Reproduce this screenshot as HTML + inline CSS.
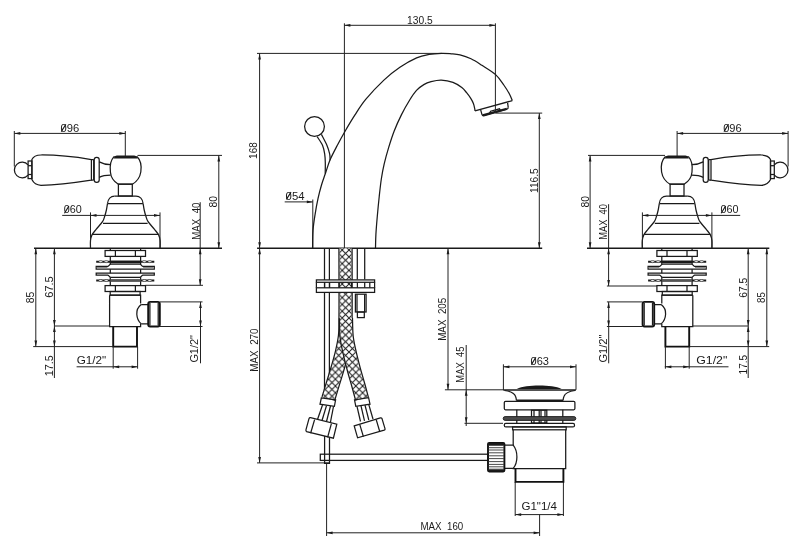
<!DOCTYPE html>
<html><head><meta charset="utf-8"><style>
html,body{margin:0;padding:0;background:#fff;}
svg{display:block;}
text{font-family:"Liberation Sans",sans-serif;fill:#1a1a1a;}
.d{stroke:#222;stroke-width:1.0;fill:none;}
.o{stroke:#1a1a1a;stroke-width:1.25;fill:none;}
.ow{stroke:#1a1a1a;stroke-width:1.25;fill:#fff;}
.b{stroke:#1a1a1a;stroke-width:1.5;fill:none;}
.k{stroke:#111;stroke-width:1.9;fill:none;}
.k2{stroke:#333;stroke-width:0.9;fill:none;}
.g{stroke:#1a1a1a;stroke-width:1.1;fill:#888;}
.w{stroke:#1a1a1a;stroke-width:1.2;fill:none;}
.f{fill:#1a1a1a;stroke:none;}
.a{fill:#1a1a1a;stroke:none;}
</style></head><body>
<svg style="will-change:transform" width="800" height="548" viewBox="0 0 800 548">
<defs>
<pattern id="braid" patternUnits="userSpaceOnUse" width="6.8" height="6.8" patternTransform="translate(342.2,250)">
<path d="M0,0 L6.8,6.8 M6.8,0 L0,6.8" stroke="#181818" stroke-width="1.0" fill="none"/>
</pattern>
</defs>
<rect width="800" height="548" fill="#fff"/>
<g transform="translate(802.4,0) scale(-1,1)"><g><path class="o" d="M28.1,164.9 A7.8,7.8 0 1 0 28.1,175.1"/><rect class="o" x="28.1" y="161" width="3.8" height="17.6"/><line class="o" x1="28.1" y1="165.7" x2="31.9" y2="165.7"/><line class="o" x1="28.1" y1="174.5" x2="31.9" y2="174.5"/><path class="o" d="M31.9,159.5 C33.5,156.2 36.5,155.1 41,155 C60,154.9 76,157 91.4,159.6 L91.4,180.1 C76,182.5 60,185 41,185.3 C36.5,185.2 33.5,183 31.9,179.6 Z"/><line class="o" x1="93.7" y1="159.6" x2="93.7" y2="180.1"/><line class="o" x1="91.4" y1="159.6" x2="93.7" y2="159.6"/><line class="o" x1="91.4" y1="180.1" x2="93.7" y2="180.1"/><rect class="o" x="94.2" y="157.3" width="5" height="25.1" rx="2.4"/><path class="o" d="M99.2,161.9 C103,164 106,164.6 110.6,164.6 M99.2,177.4 C103,175.3 106,175.1 110.6,175.1"/><path class="o" d="M113.8,156.8 L137.2,156.8 C140.8,160.5 141.6,167 140.8,172 C140,177 137,181.5 132.4,184.2 L118.3,184.2 C113.8,181.5 110.8,177 110.4,172 C109.8,167 110.4,160.5 113.8,156.8 Z"/><path class="f" d="M113.6,158.6 C114.5,156.4 115.5,155.6 117,155.5 L134,155.5 C135.8,155.6 136.8,156.4 137.6,158.6 Z"/><rect class="o" x="118.4" y="184.2" width="13.9" height="11.8"/><path class="o" d="M114.6,196 L136,196 C139.9,196 142.7,199.2 143.1,203.6"/><path class="o" d="M114.6,196 C110.7,196 107.9,199.2 107.5,203.6"/><path class="o" d="M107.5,203.6 C107.32,204.67 106.87,207.88 106.4,210 C105.93,212.12 105.35,214.35 104.7,216.3 C104.05,218.25 103.93,219.52 102.5,221.7 C101.07,223.88 97.85,227.2 96.1,229.4 C94.35,231.6 92.93,233.05 92,234.9 C91.07,236.75 90.75,238.27 90.5,240.5 C90.25,242.73 90.5,247 90.5,248.3"/><path class="o" d="M143.1,203.6 C143.28,204.67 143.73,207.88 144.2,210 C144.67,212.12 145.25,214.35 145.9,216.3 C146.55,218.25 146.67,219.52 148.1,221.7 C149.53,223.88 152.75,227.2 154.5,229.4 C156.25,231.6 157.67,233.05 158.6,234.9 C159.53,236.75 159.85,238.27 160.1,240.5 C160.35,242.73 160.1,247 160.1,248.3"/><line class="o" x1="107.7" y1="203.7" x2="142.9" y2="203.7"/><line class="o" x1="103" y1="223.4" x2="147.6" y2="223.4"/><line class="o" x1="92.2" y1="234.3" x2="158.4" y2="234.3"/><rect class="o" x="105.1" y="250.5" width="40.4" height="5.9"/><line class="o" x1="115.4" y1="250.5" x2="115.4" y2="256.4"/><line class="o" x1="135.4" y1="250.5" x2="135.4" y2="256.4"/><line class="o" x1="110.3" y1="248.3" x2="110.3" y2="250.5"/><line class="o" x1="140.6" y1="248.3" x2="140.6" y2="250.5"/><line class="o" x1="110.3" y1="256.4" x2="110.3" y2="285.6"/><line class="o" x1="140.6" y1="256.4" x2="140.6" y2="285.6"/><line x1="96.2" y1="261.7" x2="154.3" y2="261.7" stroke="#1a1a1a" stroke-width="2.1"/><ellipse cx="100.7" cy="261.7" rx="2.0" ry="0.95" fill="#fff" stroke="#1a1a1a" stroke-width="0.6"/><ellipse cx="106.2" cy="261.7" rx="2.0" ry="0.95" fill="#fff" stroke="#1a1a1a" stroke-width="0.6"/><ellipse cx="144.3" cy="261.7" rx="2.0" ry="0.95" fill="#fff" stroke="#1a1a1a" stroke-width="0.6"/><ellipse cx="149.8" cy="261.7" rx="2.0" ry="0.95" fill="#fff" stroke="#1a1a1a" stroke-width="0.6"/><rect class="f" x="110.3" y="260.7" width="30.3" height="2.5"/><path class="ow" d="M96.2,266.4 L107.8,266.4 C108.6,266.4 109.4,264.1 111,264.1 L139.6,264.1 C141.2,264.1 142,266.4 142.8,266.4 L154.3,266.4 L154.3,269.2 L96.2,269.2 Z"/><rect x="96.8" y="267" width="10.6" height="1.6" fill="#8a8a8a"/><rect x="143.1" y="267" width="10.6" height="1.6" fill="#8a8a8a"/><path class="ow" d="M96.2,273.2 L154.3,273.2 L154.3,275.1 L142.8,275.1 C142,275.1 141.2,277.4 139.6,277.4 L111,277.4 C109.4,277.4 108.6,275.1 107.8,275.1 L96.2,275.1 Z"/><line x1="96.2" y1="280.5" x2="154.3" y2="280.5" stroke="#1a1a1a" stroke-width="2.1"/><ellipse cx="100.7" cy="280.5" rx="2.0" ry="0.95" fill="#fff" stroke="#1a1a1a" stroke-width="0.6"/><ellipse cx="106.2" cy="280.5" rx="2.0" ry="0.95" fill="#fff" stroke="#1a1a1a" stroke-width="0.6"/><ellipse cx="144.3" cy="280.5" rx="2.0" ry="0.95" fill="#fff" stroke="#1a1a1a" stroke-width="0.6"/><ellipse cx="149.8" cy="280.5" rx="2.0" ry="0.95" fill="#fff" stroke="#1a1a1a" stroke-width="0.6"/><rect x="110.3" y="279.3" width="30.3" height="2.4" fill="#555"/><rect class="o" x="105.1" y="285.6" width="40.4" height="5.9"/><line class="o" x1="115.4" y1="285.6" x2="115.4" y2="291.5"/><line class="o" x1="135.4" y1="285.6" x2="135.4" y2="291.5"/><rect class="o" x="110.2" y="291.5" width="29.9" height="3.7"/><path class="o" d="M109.6,295.2 L109.6,326.5 L140.6,326.5 L140.6,323.8 M109.6,295.2 L140.6,295.2 L140.6,303.5"/><path class="o" d="M141.2,304.6 C137.5,307.5 136.6,311 136.8,314.2 C137,318 138.5,321.5 141.2,323.8"/><path class="o" d="M141.2,304.6 L148.2,304.6 M141.2,323.8 L148.2,323.8"/><rect class="k" x="148.2" y="301.9" width="11.6" height="24.6" rx="2"/><line class="o" x1="149.9" y1="303" x2="149.9" y2="325.5"/><line class="o" x1="158.2" y1="303" x2="158.2" y2="325.5"/><path class="k" d="M113.2,326.5 L113.2,346.6 L137,346.6 L137,326.5"/></g></g><g><path class="o" d="M28.1,164.9 A7.8,7.8 0 1 0 28.1,175.1"/><rect class="o" x="28.1" y="161" width="3.8" height="17.6"/><line class="o" x1="28.1" y1="165.7" x2="31.9" y2="165.7"/><line class="o" x1="28.1" y1="174.5" x2="31.9" y2="174.5"/><path class="o" d="M31.9,159.5 C33.5,156.2 36.5,155.1 41,155 C60,154.9 76,157 91.4,159.6 L91.4,180.1 C76,182.5 60,185 41,185.3 C36.5,185.2 33.5,183 31.9,179.6 Z"/><line class="o" x1="93.7" y1="159.6" x2="93.7" y2="180.1"/><line class="o" x1="91.4" y1="159.6" x2="93.7" y2="159.6"/><line class="o" x1="91.4" y1="180.1" x2="93.7" y2="180.1"/><rect class="o" x="94.2" y="157.3" width="5" height="25.1" rx="2.4"/><path class="o" d="M99.2,161.9 C103,164 106,164.6 110.6,164.6 M99.2,177.4 C103,175.3 106,175.1 110.6,175.1"/><path class="o" d="M113.8,156.8 L137.2,156.8 C140.8,160.5 141.6,167 140.8,172 C140,177 137,181.5 132.4,184.2 L118.3,184.2 C113.8,181.5 110.8,177 110.4,172 C109.8,167 110.4,160.5 113.8,156.8 Z"/><path class="f" d="M113.6,158.6 C114.5,156.4 115.5,155.6 117,155.5 L134,155.5 C135.8,155.6 136.8,156.4 137.6,158.6 Z"/><rect class="o" x="118.4" y="184.2" width="13.9" height="11.8"/><path class="o" d="M114.6,196 L136,196 C139.9,196 142.7,199.2 143.1,203.6"/><path class="o" d="M114.6,196 C110.7,196 107.9,199.2 107.5,203.6"/><path class="o" d="M107.5,203.6 C107.32,204.67 106.87,207.88 106.4,210 C105.93,212.12 105.35,214.35 104.7,216.3 C104.05,218.25 103.93,219.52 102.5,221.7 C101.07,223.88 97.85,227.2 96.1,229.4 C94.35,231.6 92.93,233.05 92,234.9 C91.07,236.75 90.75,238.27 90.5,240.5 C90.25,242.73 90.5,247 90.5,248.3"/><path class="o" d="M143.1,203.6 C143.28,204.67 143.73,207.88 144.2,210 C144.67,212.12 145.25,214.35 145.9,216.3 C146.55,218.25 146.67,219.52 148.1,221.7 C149.53,223.88 152.75,227.2 154.5,229.4 C156.25,231.6 157.67,233.05 158.6,234.9 C159.53,236.75 159.85,238.27 160.1,240.5 C160.35,242.73 160.1,247 160.1,248.3"/><line class="o" x1="107.7" y1="203.7" x2="142.9" y2="203.7"/><line class="o" x1="103" y1="223.4" x2="147.6" y2="223.4"/><line class="o" x1="92.2" y1="234.3" x2="158.4" y2="234.3"/><rect class="o" x="105.1" y="250.5" width="40.4" height="5.9"/><line class="o" x1="115.4" y1="250.5" x2="115.4" y2="256.4"/><line class="o" x1="135.4" y1="250.5" x2="135.4" y2="256.4"/><line class="o" x1="110.3" y1="248.3" x2="110.3" y2="250.5"/><line class="o" x1="140.6" y1="248.3" x2="140.6" y2="250.5"/><line class="o" x1="110.3" y1="256.4" x2="110.3" y2="285.6"/><line class="o" x1="140.6" y1="256.4" x2="140.6" y2="285.6"/><line x1="96.2" y1="261.7" x2="154.3" y2="261.7" stroke="#1a1a1a" stroke-width="2.1"/><ellipse cx="100.7" cy="261.7" rx="2.0" ry="0.95" fill="#fff" stroke="#1a1a1a" stroke-width="0.6"/><ellipse cx="106.2" cy="261.7" rx="2.0" ry="0.95" fill="#fff" stroke="#1a1a1a" stroke-width="0.6"/><ellipse cx="144.3" cy="261.7" rx="2.0" ry="0.95" fill="#fff" stroke="#1a1a1a" stroke-width="0.6"/><ellipse cx="149.8" cy="261.7" rx="2.0" ry="0.95" fill="#fff" stroke="#1a1a1a" stroke-width="0.6"/><rect class="f" x="110.3" y="260.7" width="30.3" height="2.5"/><path class="ow" d="M96.2,266.4 L107.8,266.4 C108.6,266.4 109.4,264.1 111,264.1 L139.6,264.1 C141.2,264.1 142,266.4 142.8,266.4 L154.3,266.4 L154.3,269.2 L96.2,269.2 Z"/><rect x="96.8" y="267" width="10.6" height="1.6" fill="#8a8a8a"/><rect x="143.1" y="267" width="10.6" height="1.6" fill="#8a8a8a"/><path class="ow" d="M96.2,273.2 L154.3,273.2 L154.3,275.1 L142.8,275.1 C142,275.1 141.2,277.4 139.6,277.4 L111,277.4 C109.4,277.4 108.6,275.1 107.8,275.1 L96.2,275.1 Z"/><line x1="96.2" y1="280.5" x2="154.3" y2="280.5" stroke="#1a1a1a" stroke-width="2.1"/><ellipse cx="100.7" cy="280.5" rx="2.0" ry="0.95" fill="#fff" stroke="#1a1a1a" stroke-width="0.6"/><ellipse cx="106.2" cy="280.5" rx="2.0" ry="0.95" fill="#fff" stroke="#1a1a1a" stroke-width="0.6"/><ellipse cx="144.3" cy="280.5" rx="2.0" ry="0.95" fill="#fff" stroke="#1a1a1a" stroke-width="0.6"/><ellipse cx="149.8" cy="280.5" rx="2.0" ry="0.95" fill="#fff" stroke="#1a1a1a" stroke-width="0.6"/><rect x="110.3" y="279.3" width="30.3" height="2.4" fill="#555"/><rect class="o" x="105.1" y="285.6" width="40.4" height="5.9"/><line class="o" x1="115.4" y1="285.6" x2="115.4" y2="291.5"/><line class="o" x1="135.4" y1="285.6" x2="135.4" y2="291.5"/><rect class="o" x="110.2" y="291.5" width="29.9" height="3.7"/><path class="o" d="M109.6,295.2 L109.6,326.5 L140.6,326.5 L140.6,323.8 M109.6,295.2 L140.6,295.2 L140.6,303.5"/><path class="o" d="M141.2,304.6 C137.5,307.5 136.6,311 136.8,314.2 C137,318 138.5,321.5 141.2,323.8"/><path class="o" d="M141.2,304.6 L148.2,304.6 M141.2,323.8 L148.2,323.8"/><rect class="k" x="148.2" y="301.9" width="11.6" height="24.6" rx="2"/><line class="o" x1="149.9" y1="303" x2="149.9" y2="325.5"/><line class="o" x1="158.2" y1="303" x2="158.2" y2="325.5"/><path class="k" d="M113.2,326.5 L113.2,346.6 L137,346.6 L137,326.5"/></g><line class="d" x1="14.3" y1="131" x2="14.3" y2="166.5"/><line class="d" x1="125.3" y1="131" x2="125.3" y2="156"/><line class="d" x1="14.3" y1="133.4" x2="125.3" y2="133.4"/><path class="a" d="M14.3,133.4L20.3,132.05L20.3,134.75Z"/><path class="a" d="M125.3,133.4L119.3,132.05L119.3,134.75Z"/><text x="60.5" y="131.8" font-size="10" textLength="18.7" lengthAdjust="spacingAndGlyphs">096</text><line x1="61.27" y1="131.6" x2="65.89" y2="124.3" stroke="#111" stroke-width="1.05"/><line class="d" x1="137.5" y1="155.4" x2="222" y2="155.4"/><line class="d" x1="218.8" y1="155.4" x2="218.8" y2="248.3"/><path class="a" d="M218.8,155.4L217.45,161.4L220.15,161.4Z"/><path class="a" d="M218.8,248.3L217.45,242.3L220.15,242.3Z"/><text transform="translate(216.7,207.6) rotate(-90)" font-size="10" textLength="11.5" lengthAdjust="spacingAndGlyphs">80</text><line class="d" x1="200.2" y1="202.2" x2="200.2" y2="285.3"/><path class="a" d="M200.2,248.3L198.85,254.3L201.55,254.3Z"/><path class="a" d="M200.2,285.3L198.85,279.3L201.55,279.3Z"/><text transform="translate(199.5,239.8) rotate(-90)" font-size="10" textLength="37.3" lengthAdjust="spacingAndGlyphs">MAX&#160;&#160;40</text><line class="d" x1="145.5" y1="285.3" x2="203" y2="285.3"/><line class="b" x1="34" y1="248.3" x2="222" y2="248.3"/><line class="d" x1="62.2" y1="215.4" x2="160" y2="215.4"/><line class="d" x1="90.5" y1="212.4" x2="90.5" y2="248.3"/><line class="d" x1="160" y1="212.4" x2="160" y2="248.3"/><path class="a" d="M90.5,215.4L96.5,214.05L96.5,216.75Z"/><path class="a" d="M160,215.4L154,214.05L154,216.75Z"/><text x="63.7" y="213.4" font-size="10" textLength="18" lengthAdjust="spacingAndGlyphs">060</text><line x1="64.46" y1="213.2" x2="68.9" y2="205.9" stroke="#111" stroke-width="1.05"/><line class="d" x1="35.8" y1="248.3" x2="35.8" y2="346.6"/><path class="a" d="M35.8,248.3L34.45,254.3L37.15,254.3Z"/><path class="a" d="M35.8,346.6L34.45,340.6L37.15,340.6Z"/><text transform="translate(34.3,303.2) rotate(-90)" font-size="10" textLength="11.5" lengthAdjust="spacingAndGlyphs">85</text><line class="d" x1="54.4" y1="248.3" x2="54.4" y2="378"/><path class="a" d="M54.4,248.3L53.05,254.3L55.75,254.3Z"/><path class="a" d="M54.4,326L53.05,320L55.75,320Z"/><path class="a" d="M54.4,326L53.05,332L55.75,332Z"/><path class="a" d="M54.4,346.6L53.05,340.6L55.75,340.6Z"/><text transform="translate(53.3,297.7) rotate(-90)" font-size="10" textLength="21.4" lengthAdjust="spacingAndGlyphs">67.5</text><text transform="translate(53.3,376.2) rotate(-90)" font-size="10" textLength="20.9" lengthAdjust="spacingAndGlyphs">17.5</text><line class="d" x1="54.4" y1="326" x2="109.6" y2="326"/><line class="d" x1="33.2" y1="346.6" x2="113.2" y2="346.6"/><line class="d" x1="76.6" y1="366.8" x2="137.6" y2="366.8"/><line class="d" x1="113.2" y1="346.6" x2="113.2" y2="368.7"/><line class="d" x1="137.6" y1="346.6" x2="137.6" y2="368.7"/><path class="a" d="M113.2,366.8L119.2,365.45L119.2,368.15Z"/><path class="a" d="M137.6,366.8L131.6,365.45L131.6,368.15Z"/><text x="76.7" y="363.8" font-size="10" textLength="29.5" lengthAdjust="spacingAndGlyphs">G1/2&quot;</text><line class="d" x1="159.8" y1="301.9" x2="202.5" y2="301.9"/><line class="d" x1="159.8" y1="326.5" x2="202.5" y2="326.5"/><line class="d" x1="200.5" y1="301.9" x2="200.5" y2="363.3"/><path class="a" d="M200.5,301.9L199.15,307.9L201.85,307.9Z"/><path class="a" d="M200.5,326.5L199.15,320.5L201.85,320.5Z"/><text transform="translate(198.1,362.6) rotate(-90)" font-size="10" textLength="27.4" lengthAdjust="spacingAndGlyphs">G1/2&quot;</text><line class="d" x1="788.1" y1="131" x2="788.1" y2="166.5"/><line class="d" x1="677.1" y1="131" x2="677.1" y2="156"/><line class="d" x1="677.1" y1="133.4" x2="788.1" y2="133.4"/><path class="a" d="M677.1,133.4L683.1,132.05L683.1,134.75Z"/><path class="a" d="M788.1,133.4L782.1,132.05L782.1,134.75Z"/><text x="723.2" y="131.8" font-size="10" textLength="18.5" lengthAdjust="spacingAndGlyphs">096</text><line x1="723.97" y1="131.6" x2="728.53" y2="124.3" stroke="#111" stroke-width="1.05"/><line class="d" x1="588" y1="155.4" x2="665" y2="155.4"/><line class="d" x1="590.1" y1="155.4" x2="590.1" y2="248.3"/><path class="a" d="M590.1,155.4L588.75,161.4L591.45,161.4Z"/><path class="a" d="M590.1,248.3L588.75,242.3L591.45,242.3Z"/><text transform="translate(588.6,207.6) rotate(-90)" font-size="10" textLength="11.5" lengthAdjust="spacingAndGlyphs">80</text><line class="d" x1="608.6" y1="204.2" x2="608.6" y2="286"/><path class="a" d="M608.6,248.3L607.25,254.3L609.95,254.3Z"/><path class="a" d="M608.6,286L607.25,280L609.95,280Z"/><text transform="translate(607.1,239.8) rotate(-90)" font-size="10" textLength="35.7" lengthAdjust="spacingAndGlyphs">MAX&#160;&#160;40</text><line class="d" x1="606.9" y1="286" x2="656.9" y2="286"/><line class="b" x1="587" y1="248.3" x2="769.3" y2="248.3"/><line class="d" x1="642.4" y1="215.4" x2="740.2" y2="215.4"/><line class="d" x1="642.4" y1="212.4" x2="642.4" y2="248.3"/><line class="d" x1="711.9" y1="212.4" x2="711.9" y2="248.3"/><path class="a" d="M642.4,215.4L648.4,214.05L648.4,216.75Z"/><path class="a" d="M711.9,215.4L705.9,214.05L705.9,216.75Z"/><text x="720.4" y="213.4" font-size="10" textLength="18" lengthAdjust="spacingAndGlyphs">060</text><line x1="721.16" y1="213.2" x2="725.6" y2="205.9" stroke="#111" stroke-width="1.05"/><line class="d" x1="766.8" y1="248.3" x2="766.8" y2="346.6"/><path class="a" d="M766.8,248.3L765.45,254.3L768.15,254.3Z"/><path class="a" d="M766.8,346.6L765.45,340.6L768.15,340.6Z"/><text transform="translate(764.7,302.9) rotate(-90)" font-size="10" textLength="10.7" lengthAdjust="spacingAndGlyphs">85</text><line class="d" x1="748.2" y1="248.3" x2="748.2" y2="378"/><path class="a" d="M748.2,248.3L746.85,254.3L749.55,254.3Z"/><path class="a" d="M748.2,326L746.85,320L749.55,320Z"/><path class="a" d="M748.2,326L746.85,332L749.55,332Z"/><path class="a" d="M748.2,346.6L746.85,340.6L749.55,340.6Z"/><text transform="translate(746.9,297.8) rotate(-90)" font-size="10" textLength="20.1" lengthAdjust="spacingAndGlyphs">67.5</text><text transform="translate(746.9,374.4) rotate(-90)" font-size="10" textLength="19.6" lengthAdjust="spacingAndGlyphs">17.5</text><line class="d" x1="692.8" y1="326" x2="748.2" y2="326"/><line class="d" x1="689.2" y1="346.6" x2="769.2" y2="346.6"/><line class="d" x1="664.8" y1="366.8" x2="728.5" y2="366.8"/><line class="d" x1="665.4" y1="346.6" x2="665.4" y2="368.7"/><line class="d" x1="689.2" y1="346.6" x2="689.2" y2="368.7"/><path class="a" d="M665.4,366.8L671.4,365.45L671.4,368.15Z"/><path class="a" d="M689.2,366.8L683.2,365.45L683.2,368.15Z"/><text x="696.2" y="363.5" font-size="10" textLength="31.1" lengthAdjust="spacingAndGlyphs">G1/2&quot;</text><line class="d" x1="606.9" y1="301.9" x2="642.6" y2="301.9"/><line class="d" x1="606.9" y1="326.5" x2="642.6" y2="326.5"/><line class="d" x1="608.7" y1="301.9" x2="608.7" y2="363.3"/><path class="a" d="M608.6,301.9L607.25,307.9L609.95,307.9Z"/><path class="a" d="M608.6,326.5L607.25,320.5L609.95,320.5Z"/><text transform="translate(606.5,362.6) rotate(-90)" font-size="10" textLength="28.1" lengthAdjust="spacingAndGlyphs">G1/2&quot;</text><line class="d" x1="344.4" y1="23.3" x2="344.4" y2="248.3"/><line class="d" x1="344.4" y1="25.3" x2="495.4" y2="25.3"/><path class="a" d="M344.4,25.3L350.4,23.95L350.4,26.65Z"/><path class="a" d="M495.4,25.3L489.4,23.95L489.4,26.65Z"/><line class="d" x1="495.4" y1="23.3" x2="495.4" y2="107"/><text x="407.1" y="23.7" font-size="10" textLength="25.6" lengthAdjust="spacingAndGlyphs">130.5</text><line class="d" x1="257" y1="53.4" x2="442" y2="53.4"/><line class="d" x1="259.6" y1="53.4" x2="259.6" y2="248.3"/><path class="a" d="M259.6,53.4L258.25,59.4L260.95,59.4Z"/><path class="a" d="M259.6,248.3L258.25,242.3L260.95,242.3Z"/><text transform="translate(257.3,158.9) rotate(-90)" font-size="10" textLength="16.6" lengthAdjust="spacingAndGlyphs">168</text><line class="d" x1="259.6" y1="248.3" x2="259.6" y2="462.9"/><path class="a" d="M259.6,248.3L258.25,254.3L260.95,254.3Z"/><path class="a" d="M259.6,462.9L258.25,456.9L260.95,456.9Z"/><text transform="translate(257.6,371.7) rotate(-90)" font-size="10" textLength="43.3" lengthAdjust="spacingAndGlyphs">MAX&#160;&#160;270</text><line class="d" x1="257" y1="462.9" x2="329.4" y2="462.9"/><line class="b" x1="257.1" y1="248.3" x2="542.2" y2="248.3"/><line class="d" x1="284.7" y1="201.9" x2="312.8" y2="201.9"/><path class="a" d="M312.8,201.9L306.8,200.55L306.8,203.25Z"/><line class="d" x1="312.8" y1="199.5" x2="312.8" y2="248.3"/><text x="285.6" y="199.6" font-size="10" textLength="18.9" lengthAdjust="spacingAndGlyphs">054</text><line x1="286.38" y1="199.4" x2="291.04" y2="192.1" stroke="#111" stroke-width="1.05"/><line class="d" x1="495.4" y1="113.1" x2="542.2" y2="113.1"/><line class="d" x1="539.3" y1="113.1" x2="539.3" y2="248.3"/><path class="a" d="M539.3,113.1L537.95,119.1L540.65,119.1Z"/><path class="a" d="M539.3,248.3L537.95,242.3L540.65,242.3Z"/><text transform="translate(537.9,193) rotate(-90)" font-size="10" textLength="24.6" lengthAdjust="spacingAndGlyphs">116.5</text><line class="d" x1="448" y1="248.3" x2="448" y2="389.8"/><path class="a" d="M448,248.3L446.65,254.3L449.35,254.3Z"/><path class="a" d="M448,389.8L446.65,383.8L449.35,383.8Z"/><text transform="translate(446.4,340.8) rotate(-90)" font-size="10" textLength="43.1" lengthAdjust="spacingAndGlyphs">MAX&#160;&#160;205</text><line class="d" x1="444.9" y1="389.8" x2="504" y2="389.8"/><line class="d" x1="466.2" y1="345" x2="466.2" y2="426"/><path class="a" d="M466.2,389.8L464.85,395.8L467.55,395.8Z"/><path class="a" d="M466.2,423.3L464.85,417.3L467.55,417.3Z"/><text transform="translate(464.1,382.7) rotate(-90)" font-size="10" textLength="36.2" lengthAdjust="spacingAndGlyphs">MAX&#160;&#160;45</text><line class="d" x1="464.5" y1="423.3" x2="503" y2="423.3"/><line class="d" x1="503.4" y1="366.8" x2="576" y2="366.8"/><path class="a" d="M503.4,366.8L509.4,365.45L509.4,368.15Z"/><path class="a" d="M576,366.8L570,365.45L570,368.15Z"/><line class="d" x1="503.4" y1="364.3" x2="503.4" y2="389.8"/><line class="d" x1="576" y1="364.3" x2="576" y2="389.8"/><text x="530.6" y="364.8" font-size="10" textLength="18.4" lengthAdjust="spacingAndGlyphs">063</text><line x1="531.37" y1="364.6" x2="535.91" y2="357.3" stroke="#111" stroke-width="1.05"/><line class="d" x1="515.2" y1="482" x2="515.2" y2="516"/><line class="d" x1="563.4" y1="482" x2="563.4" y2="516"/><line class="d" x1="515.2" y1="514.6" x2="563.4" y2="514.6"/><path class="a" d="M515.2,514.6L521.2,513.25L521.2,515.95Z"/><path class="a" d="M563.4,514.6L557.4,513.25L557.4,515.95Z"/><text x="521.4" y="509.9" font-size="10" textLength="35.6" lengthAdjust="spacingAndGlyphs">G1&quot;1/4</text><line class="d" x1="326.6" y1="462.9" x2="326.6" y2="536"/><line class="d" x1="539.6" y1="514.6" x2="539.6" y2="536"/><line class="d" x1="326.6" y1="532.8" x2="539.6" y2="532.8"/><path class="a" d="M326.6,532.8L332.6,531.45L332.6,534.15Z"/><path class="a" d="M539.6,532.8L533.6,531.45L533.6,534.15Z"/><text x="420.5" y="530" font-size="10" textLength="42.7" lengthAdjust="spacingAndGlyphs">MAX&#160;&#160;160</text><path class="o" d="M312.6,248.3 C312.67,245.32 312.58,236.07 313,230.4 C313.42,224.73 314.25,219.67 315.1,214.3 C315.95,208.93 317.03,203.08 318.1,198.2 C319.17,193.32 320.3,189.07 321.5,185 C322.7,180.93 323.85,178.03 325.3,173.8 C326.75,169.57 328.1,164.53 330.2,159.6 C332.3,154.67 335.52,148.77 337.9,144.2 C340.28,139.63 341.68,137.03 344.5,132.2 C347.32,127.37 351.27,120.67 354.8,115.2 C358.33,109.73 360.85,105.25 365.7,99.4 C370.55,93.55 378.2,85.45 383.9,80.1 C389.6,74.75 394.45,71 399.9,67.3 C405.35,63.6 411.75,60.03 416.6,57.9 C421.45,55.77 424.85,55.25 429,54.5 C433.15,53.75 437.83,53.52 441.5,53.4 C445.17,53.28 447.92,53.55 451,53.8 C454.08,54.05 456.67,54.07 460,54.9 C463.33,55.73 467.35,57.07 471,58.8 C474.65,60.53 477.8,62.67 481.9,65.3 C486,67.93 491.95,71.32 495.6,74.6 C499.25,77.88 501.52,81.8 503.8,85 C506.08,88.2 507.88,91.2 509.3,93.8 C510.72,96.4 511.8,99.47 512.3,100.6"/><path class="o" d="M375.5,248.3 C375.57,245.98 375.6,239.73 375.9,234.4 C376.2,229.07 376.75,222.58 377.3,216.3 C377.85,210.02 378.52,203 379.2,196.7 C379.88,190.4 380.57,183.97 381.4,178.5 C382.23,173.03 382.98,169.08 384.2,163.9 C385.42,158.72 387.03,152.88 388.7,147.4 C390.37,141.92 392.07,136.47 394.2,131 C396.33,125.53 398.92,119.77 401.5,114.6 C404.08,109.43 407.2,104.03 409.7,100 C412.2,95.97 414.15,92.97 416.5,90.4 C418.85,87.83 421.37,86.05 423.8,84.6 C426.23,83.15 428.18,82.43 431.1,81.7 C434.02,80.97 437.65,80.08 441.3,80.2 C444.95,80.32 449.58,81.18 453,82.4 C456.42,83.62 459.53,85.78 461.8,87.5 C464.07,89.22 465.13,90.92 466.6,92.7 C468.07,94.48 469.47,96.4 470.6,98.2 C471.73,100 472.7,101.68 473.4,103.5 C474.1,105.32 474.53,107.87 474.8,109.1 C475.07,110.33 474.97,110.6 475,110.9"/><path class="o" d="M475.0,110.9 L512.3,100.6"/><path class="o" d="M480.6,109.6 L482,114.6 C482.4,115.8 483.4,116 484.6,115.7 L506.6,109.4 C507.8,109 508.4,108.3 508.2,107.2 L507.6,102.8"/><path d="M482.6,115.2 L506.8,108.7" stroke="#1a1a1a" stroke-width="2.0" fill="none"/><path class="o" d="M489.5,113.3 L490.6,111.2 L499.5,108.8 L500.5,110.6"/><line class="d" x1="495.4" y1="107" x2="495.4" y2="113.1"/><circle class="o" cx="314.5" cy="126.5" r="9.9"/><path class="o" d="M321.4,134.4 C322.32,136.22 325.52,142.02 326.9,145.3 C328.28,148.58 329.17,151.6 329.7,154.1 C330.23,156.6 330.03,159.27 330.1,160.3"/><path class="o" d="M317.1,136.6 C318,138.05 321.23,142.38 322.5,145.3 C323.77,148.22 324.23,151.17 324.7,154.1 C325.17,157.03 325.22,159.65 325.3,162.9 C325.38,166.15 325.22,171.82 325.2,173.6"/><line class="o" x1="324.5" y1="248.3" x2="324.5" y2="390"/><line class="o" x1="329.4" y1="248.3" x2="329.4" y2="386"/><line class="o" x1="357.3" y1="248.3" x2="357.3" y2="279.4"/><line class="o" x1="364.7" y1="248.3" x2="364.7" y2="279.4"/><path d="M345.5,248.3 C345.52,256.92 345.6,288.05 345.6,300 C345.6,311.95 345.6,314 345.5,320 C345.4,326 345.58,330.67 345,336 C344.42,341.33 343.28,346.45 342,352 C340.72,357.55 338.83,363.97 337.3,369.3 C335.77,374.63 334.3,379.08 332.8,384 C331.3,388.92 329.05,396.33 328.3,398.8" fill="none" stroke="#1a1a1a" stroke-width="14.4"/><path d="M345.5,248.3 C345.52,256.92 345.6,288.05 345.6,300 C345.6,311.95 345.6,314 345.5,320 C345.4,326 345.58,330.67 345,336 C344.42,341.33 343.28,346.45 342,352 C340.72,357.55 338.83,363.97 337.3,369.3 C335.77,374.63 334.3,379.08 332.8,384 C331.3,388.92 329.05,396.33 328.3,398.8" fill="none" stroke="#fff" stroke-width="11.9"/><path d="M345.5,248.3 C345.52,256.92 345.6,288.05 345.6,300 C345.6,311.95 345.6,314 345.5,320 C345.4,326 345.58,330.67 345,336 C344.42,341.33 343.28,346.45 342,352 C340.72,357.55 338.83,363.97 337.3,369.3 C335.77,374.63 334.3,379.08 332.8,384 C331.3,388.92 329.05,396.33 328.3,398.8" fill="none" stroke="url(#braid)" stroke-width="11.9"/><path d="M345.9,318 C346.02,321.07 346,330.73 346.6,336.4 C347.2,342.07 348.3,346.52 349.5,352 C350.7,357.48 352.38,363.97 353.8,369.3 C355.22,374.63 356.63,379.08 358,384 C359.37,388.92 361.33,396.33 362,398.8" fill="none" stroke="#1a1a1a" stroke-width="14.4"/><path d="M345.9,318 C346.02,321.07 346,330.73 346.6,336.4 C347.2,342.07 348.3,346.52 349.5,352 C350.7,357.48 352.38,363.97 353.8,369.3 C355.22,374.63 356.63,379.08 358,384 C359.37,388.92 361.33,396.33 362,398.8" fill="none" stroke="#fff" stroke-width="11.9"/><path d="M345.9,318 C346.02,321.07 346,330.73 346.6,336.4 C347.2,342.07 348.3,346.52 349.5,352 C350.7,357.48 352.38,363.97 353.8,369.3 C355.22,374.63 356.63,379.08 358,384 C359.37,388.92 361.33,396.33 362,398.8" fill="none" stroke="url(#braid)" stroke-width="11.9"/><rect class="ow" x="316.4" y="279.9" width="58.2" height="2.4"/><rect class="ow" x="316.4" y="287.8" width="58.2" height="4.6"/><line class="o" x1="316.4" y1="282.3" x2="316.4" y2="287.8"/><line class="o" x1="324.6" y1="282.3" x2="324.6" y2="287.8"/><line class="o" x1="329.6" y1="282.3" x2="329.6" y2="287.8"/><line class="o" x1="339.2" y1="282.3" x2="339.2" y2="287.8"/><line class="o" x1="351.5" y1="282.3" x2="351.5" y2="287.8"/><line class="o" x1="357.4" y1="282.3" x2="357.4" y2="287.8"/><line class="o" x1="364.7" y1="282.3" x2="364.7" y2="287.8"/><line class="o" x1="369.8" y1="282.3" x2="369.8" y2="287.8"/><line class="o" x1="374.6" y1="282.3" x2="374.6" y2="287.8"/><rect class="o" x="355.4" y="294.2" width="10.7" height="17.8"/><line class="o" x1="357" y1="294.2" x2="357" y2="312"/><line class="o" x1="364.6" y1="294.2" x2="364.6" y2="312"/><rect class="o" x="357.4" y="312" width="6.9" height="5.6"/><path class="o" fill="#fff" d="M321.4,397.8 L335.6,399.8 L334.4,406.4 L320,404.2 Z"/><path class="o" fill="#fff" d="M354.5,399.8 L368.6,397.6 L370,404.2 L355.8,406.4 Z"/><line class="o" x1="322.5" y1="405" x2="317.5" y2="419.5"/><line class="o" x1="326.5" y1="405.6" x2="322" y2="420.5"/><line class="o" x1="330.5" y1="406" x2="326.5" y2="421.5"/><line class="o" x1="333.5" y1="406.3" x2="330.5" y2="422"/><line class="o" x1="357" y1="406.3" x2="360.5" y2="421.5"/><line class="o" x1="361" y1="405.8" x2="364.5" y2="420.8"/><line class="o" x1="365" y1="405.2" x2="368.8" y2="420"/><line class="o" x1="368.8" y1="404.6" x2="373" y2="419"/><path class="o" fill="#fff" d="M310.5,417.6 L336.8,424.2 L333.4,438.2 L306.6,431.6 Q305.6,431 306,429.6 L309,418.6 Q309.4,417.4 310.5,417.6 Z"/><line class="o" x1="314.6" y1="419.6" x2="310.6" y2="433.2"/><line class="o" x1="331.4" y1="423.6" x2="327.6" y2="437.4"/><path class="o" fill="#fff" d="M354.2,425.8 L380.4,417.8 Q381.6,417.6 382,418.6 L385,428.6 Q385.4,429.8 384.2,430.2 L357.6,437.8 Z"/><line class="o" x1="359.8" y1="424.6" x2="363.4" y2="436.6"/><line class="o" x1="376.2" y1="419.6" x2="379.8" y2="431.8"/><path class="o" d="M324.6,436 L324.6,463.4 L329.5,463.4 L329.5,437.2"/><rect class="o" x="320.3" y="454.2" width="167.9" height="6.2"/><line class="b" x1="503.4" y1="389.9" x2="576.0" y2="389.9"/><path class="f" d="M516.8,389 C522,386.6 530,385.6 539.2,385.6 C548.4,385.6 556.4,386.6 561.6,389 Z"/><path class="o" d="M504.5,390.5 C510.5,391.2 514.5,393.5 515.6,396.5 C516.2,398 516.4,399 516.4,400.5"/><path class="o" d="M575.0,390.5 C569,391.2 565,393.5 563.9,396.5 C563.3,398 563.1,399 563.1,400.5"/><line class="b" x1="516.4" y1="400.3" x2="563.1" y2="400.3"/><rect class="o" x="504.3" y="401.4" width="70.6" height="8.4" rx="1.2"/><line class="o" x1="516.8" y1="409.8" x2="516.8" y2="423.6"/><line class="o" x1="562.8" y1="409.8" x2="562.8" y2="423.6"/><rect class="o" x="531.5" y="410.2" width="15.3" height="12.8"/><line class="o" x1="534" y1="410.2" x2="534" y2="423"/><line class="o" x1="539.2" y1="410.2" x2="539.2" y2="423"/><line class="o" x1="541" y1="410.2" x2="541" y2="423"/><line class="o" x1="545" y1="410.2" x2="545" y2="423"/><rect x="503.2" y="416.6" width="72.6" height="3.8" rx="1.9" fill="#4a4a4a" stroke="#1a1a1a" stroke-width="0.9"/><rect class="o" x="504.3" y="423.4" width="70.2" height="3.5" rx="1.5"/><rect class="o" x="512.6" y="426.9" width="53.6" height="2.9"/><path class="o" d="M513.2,429.8 L513.2,445.2 M513.2,468.4 L513.2,468.6 L565.7,468.6 L565.7,429.8"/><path class="k" d="M515.5,468.6 L515.5,481.9 L563.4,481.9 L563.4,468.6"/><path class="o" d="M504.4,445.2 L513.2,445.2 C515.8,448.5 516.9,452.5 516.9,456.9 C516.9,461.3 515.8,465.2 513.2,468.4 L504.4,468.4"/><rect class="k" x="488" y="442.9" width="16.4" height="28.6" rx="1.2"/><rect class="f" x="488" y="442.9" width="16.4" height="2.2"/><rect class="f" x="488" y="469.4" width="16.4" height="2.1"/><line class="k2" x1="488.5" y1="445.4" x2="503.9" y2="445.4"/><line class="k2" x1="488.5" y1="447.7" x2="503.9" y2="447.7"/><line class="k2" x1="488.5" y1="450" x2="503.9" y2="450"/><line class="k2" x1="488.5" y1="452.8" x2="503.9" y2="452.8"/><line class="k2" x1="488.5" y1="455.8" x2="503.9" y2="455.8"/><line class="k2" x1="488.5" y1="458.6" x2="503.9" y2="458.6"/><line class="k2" x1="488.5" y1="461.6" x2="503.9" y2="461.6"/><line class="k2" x1="488.5" y1="464.4" x2="503.9" y2="464.4"/><line class="k2" x1="488.5" y1="466.8" x2="503.9" y2="466.8"/><line class="k2" x1="488.5" y1="469.2" x2="503.9" y2="469.2"/>
</svg>
</body></html>
